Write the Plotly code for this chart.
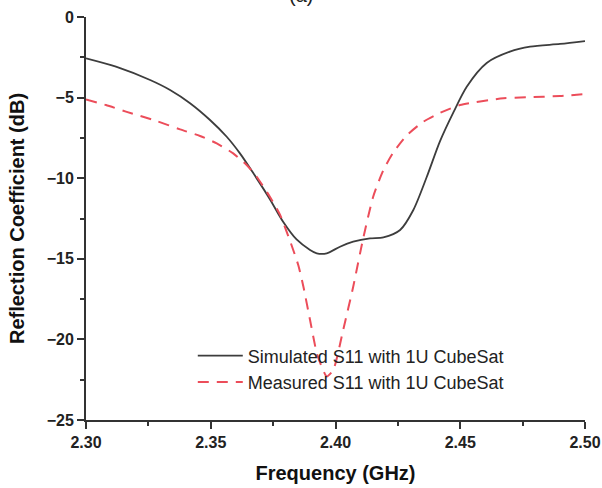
import plotly.graph_objects as go

# Simulated S11 (GHz, dB)
sim_freq = [2.300, 2.312, 2.3257, 2.3337, 2.3417, 2.3497, 2.3564, 2.3617, 2.3671, 2.3737,
            2.379, 2.3844, 2.3898, 2.3925, 2.3965, 2.4018, 2.4071, 2.4138, 2.4192, 2.4259,
            2.4312, 2.4366, 2.4419, 2.4473, 2.4526, 2.4606, 2.4699, 2.478, 2.490, 2.500]
sim_s11 = [-2.56, -3.08, -3.91, -4.53, -5.35, -6.39, -7.43, -8.46, -9.7, -11.3,
           -12.7, -13.8, -14.45, -14.66, -14.66, -14.25, -13.94, -13.73, -13.67, -13.21,
           -11.97, -9.91, -7.7, -5.9, -4.32, -2.85, -2.15, -1.84, -1.67, -1.49]

# Measured S11 (GHz, dB)
meas_freq = [2.300, 2.308, 2.316, 2.3283, 2.3377, 2.3457, 2.3524, 2.359, 2.3644, 2.3684,
             2.3737, 2.3778, 2.3818, 2.3851, 2.3871, 2.3898, 2.3925, 2.3945, 2.3965, 2.3991,
             2.4031, 2.4071, 2.4111, 2.4151, 2.4192, 2.4232, 2.4285, 2.4352, 2.4419, 2.4499,
             2.4673, 2.4766, 2.490, 2.500]
meas_s11 = [-5.12, -5.46, -5.87, -6.45, -6.97, -7.38, -7.84, -8.46, -9.18, -9.91,
            -11.15, -12.28, -13.9, -15.4, -16.7, -18.8, -20.86, -21.7, -22.3, -21.9,
            -19.4, -16.73, -13.73, -11.15, -9.49, -8.4, -7.35, -6.5, -5.95, -5.46,
            -5.04, -4.98, -4.9, -4.78]

series_names = ["Simulated S11 with 1U CubeSat", "Measured S11 with 1U CubeSat"]
x_tickvals = [2.30, 2.35, 2.40, 2.45, 2.50]
y_tickvals = [0, -5, -10, -15, -20, -25]

FONT = "Liberation Sans, Arial, sans-serif"

fig = go.Figure()
fig.add_trace(go.Scatter(x=sim_freq, y=sim_s11, mode="lines", name=series_names[0],
                         line=dict(color="#3d3d3d", width=1.8, shape="spline", smoothing=0.8)))
fig.add_trace(go.Scatter(x=meas_freq, y=meas_s11, mode="lines", name=series_names[1],
                         line=dict(color="#ec4d5a", width=2, dash="11px,8px",
                                   shape="spline", smoothing=0.6)))

axis_common = dict(
    showline=True, linecolor="#333333", linewidth=2, mirror=False,
    ticks="outside", ticklen=7, tickwidth=1.5, tickcolor="#333333",
    showgrid=False, zeroline=False, automargin=False,
    tickfont=dict(family=FONT, size=16, color="#222222", weight="bold"),
)

fig.update_xaxes(
    range=[2.30, 2.50], tickvals=x_tickvals, tickformat=".2f",
    minor=dict(ticks="outside", ticklen=4, tickwidth=1.5, tickcolor="#333333", dtick=0.025),
    title=dict(text="Frequency (GHz)", font=dict(family=FONT, size=20, color="#111111", weight="bold"),
               standoff=16),
    **axis_common,
)
fig.update_yaxes(
    range=[-25, 0], tickvals=y_tickvals,
    minor=dict(ticks="outside", ticklen=4, tickwidth=1.5, tickcolor="#333333", dtick=2.5),
    title=dict(text="Reflection Coefficient (dB)", font=dict(family=FONT, size=20, color="#111111", weight="bold"),
               standoff=17),
    **axis_common,
)

fig.add_annotation(text="(a)", xref="paper", yref="paper", x=0.43, y=1, yanchor="bottom",
                   yshift=9, showarrow=False, font=dict(family=FONT, size=20, color="#222222"))

fig.update_layout(
    width=602, height=488,
    margin=dict(l=86, r=17, t=17, b=68),
    plot_bgcolor="white", paper_bgcolor="white",
    legend=dict(x=0.214, y=0.205, xanchor="left", yanchor="top",
                bgcolor="rgba(0,0,0,0)", itemwidth=45,
                font=dict(family=FONT, size=18, color="#222222")),
)

fig.write_html("out.html", config={"displayModeBar": False},
               post_script="document.body.style.margin='0px';")
